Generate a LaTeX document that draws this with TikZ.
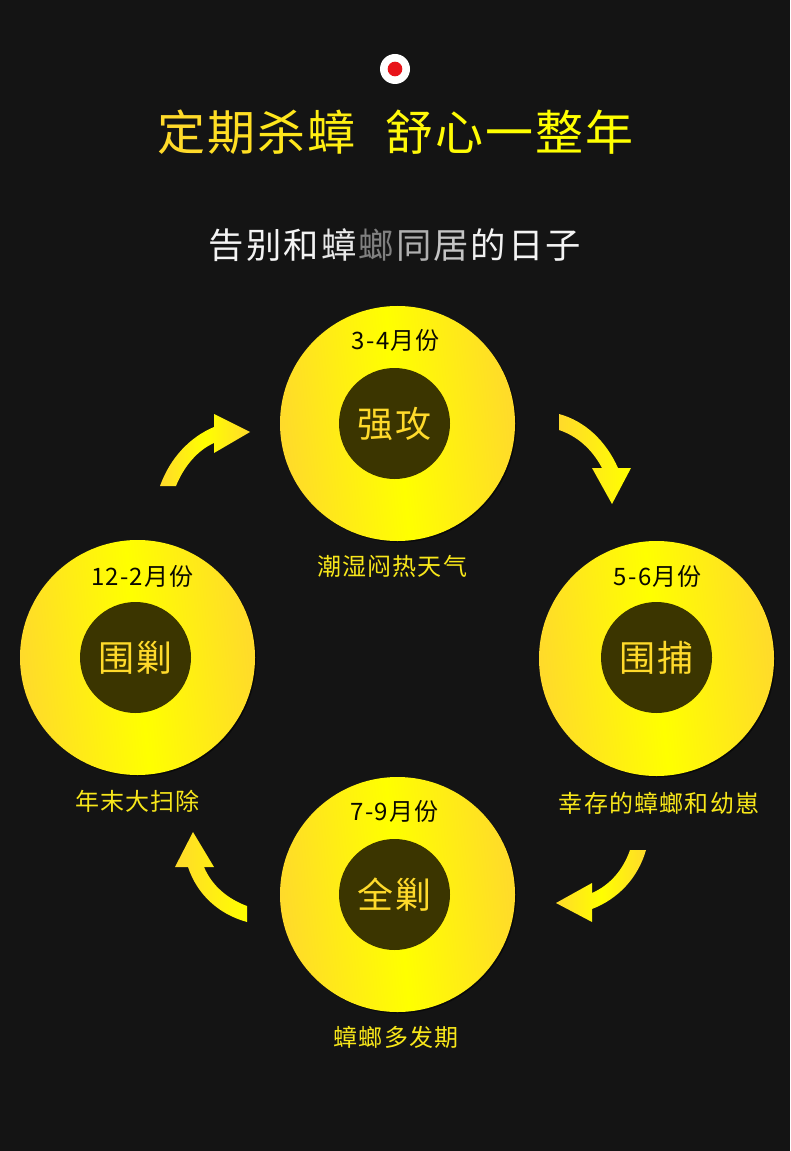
\documentclass[tikz,border=0pt]{standalone}
\usepackage{xcolor}
\usepackage{fontspec}
\setmainfont{Noto Sans CJK SC}
\newfontfamily\labelfont[LetterSpace=5]{Noto Sans CJK SC}
\usetikzlibrary{positioning,shadows}
\definecolor{bgblack}{HTML}{141414}
\definecolor{roachyellow}{HTML}{FFFF00}
\definecolor{roachamber}{HTML}{FFDA2B}
\definecolor{roachhub}{HTML}{3B3500}
\definecolor{roachlabel}{HTML}{F8E71A}
\definecolor{roachred}{HTML}{E8141A}
\newcommand{\tone}[2]{\textcolor[HTML]{#1}{#2}\kern\toneskip}

\begin{document}
\begin{tikzpicture}[x=0.75pt, y=-0.75pt,
    disc/.style={circle, minimum size=176.25pt, inner sep=0pt, left color=roachamber, right color=roachamber, middle color=roachyellow, shading angle=96, drop shadow={shadow xshift=1pt, shadow yshift=-1pt, opacity=.5, fill=black}},
    hub/.style={circle, minimum size=83.25pt, inner sep=0pt, fill=roachhub, text=roachamber, font=\labelfont\fontsize{27}{27}\selectfont},
    month/.style={inner sep=0pt, text=black!85!roachhub, text height=15.84pt, text depth=2.16pt, font=\labelfont\fontsize{18}{18}\selectfont},
    tag/.style={inner sep=0pt, text=roachlabel, text height=15.84pt, text depth=2.16pt, font=\labelfont\fontsize{18}{18}\selectfont},
    bolt/.style={shading angle=90, draw=none}
]
    \fill[bgblack] (0,0) rectangle (790,1151);
    \useasboundingbox (0,0) rectangle (790,1151);

    % Heading
    \node (dotout) [circle, minimum size=22.5pt, inner sep=0pt, fill=white] at (395,69) {};
    \node (dotin) [circle, minimum size=11pt, inner sep=0pt, fill=roachred] at (395,69) {};
    \node (title) [inner sep=0pt, text height=31.7pt, text depth=4.3pt, font=\fontsize{36}{36}\selectfont] at (396,132) {\def\toneskip{1.5pt}%
        \tone{FFDA2A}{定}\tone{FFDE24}{期}\tone{FFE61C}{杀}\tone{FFEE12}{蟑}\hspace{21pt}\tone{FFF80A}{舒}\tone{FFFC04}{心}\tone{FFFF00}{一}\tone{FFFF00}{整}\tone{FFFF00}{年}};
    \node (subtitle) [inner sep=0pt, text height=23.3pt, text depth=3.2pt, font=\fontsize{26.5}{26.5}\selectfont] at (396,245) {\def\toneskip{1.6pt}%
        \tone{F4F4F4}{告}\tone{F4F4F4}{别}\tone{F4F4F4}{和}\tone{E8E8E8}{蟑}\tone{808080}{螂}\tone{B0B0B0}{同}\tone{C4C4C4}{居}\tone{F0F0F0}{的}\tone{F4F4F4}{日}\tone{F4F4F4}{子}};

    % Spring
    \node (d1) [disc] at (397.5,423.5) {};
    \node (h1) [hub] at (394.5,423.5) {强攻};
    \node (m1) [month, above=11.5pt of h1, xshift=1pt] {3-4月份};
    \node (t1) [tag, below=9.75pt of d1, xshift=-4pt] {潮湿闷热天气};

    % Summer start
    \node (d2) [disc] at (656.5,658.5) {};
    \node (h2) [hub] at (656.5,657.5) {围捕};
    \node (m2) [month, above=10pt of h2, xshift=1pt] {5-6月份};
    \node (t2) [tag, below=11.25pt of d2, xshift=2pt] {幸存的蟑螂和幼崽};

    % Summer
    \node (d3) [disc] at (397.5,894.5) {};
    \node (h3) [hub] at (394.5,894.5) {全剿};
    \node (m3) [month, above=11.5pt of h3] {7-9月份};
    \node (t3) [tag, below=9.75pt of d3, xshift=-1pt] {蟑螂多发期};

    % Winter
    \node (d4) [disc] at (137.5,657.5) {};
    \node (h4) [hub] at (135.5,657.5) {围剿};
    \node (m4) [month, above=10pt of h4, xshift=5pt] {12-2月份};
    \node (t4) [tag, below=10.5pt of d4] {年末大扫除};

    % Arrows
    \shade[left color=roachamber, right color=roachamber, middle color=roachyellow, bolt]
        (160,486) .. controls (170,458) and (190,437) .. (214,427) -- (214,414) -- (250,432) -- (214,453) -- (214,443)
        .. controls (198,450) and (184,466) .. (176,486) -- cycle;
    \shade[left color=roachamber, right color=roachyellow, bolt]
        (559,414) .. controls (585,421) and (606,441) .. (618,468) -- (631,468) -- (612,504) -- (592,468) -- (602,468)
        .. controls (592,449) and (577,436) .. (559,430) -- cycle;
    \shade[left color=roachamber, right color=roachamber, middle color=roachyellow, bolt]
        (646,850) .. controls (638,878) and (618,899) .. (592,909) -- (592,922) -- (556,903) -- (592,883) -- (592,893)
        .. controls (610,885) and (623,870) .. (630,850) -- cycle;
    \shade[left color=roachamber, right color=roachyellow, bolt]
        (247,922) .. controls (218,914) and (197,894) .. (188,867) -- (175,867) -- (193,832) -- (214,867) -- (204,867)
        .. controls (212,886) and (228,899) .. (247,906) -- cycle;
\end{tikzpicture}
\end{document}
